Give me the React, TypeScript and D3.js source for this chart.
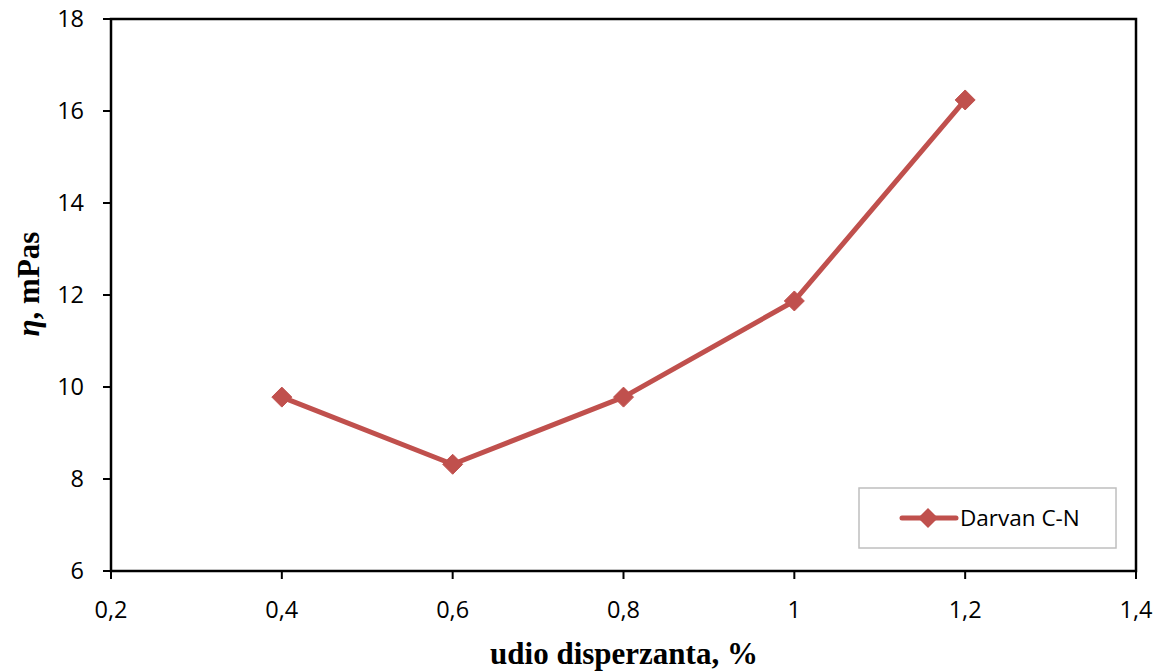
import React from "react";
import * as d3 from "d3";

const xValues = [0.4, 0.6, 0.8, 1.0, 1.2];
const yValues = [9.78, 8.32, 9.78, 11.87, 16.24];
const xTicks = [0.2, 0.4, 0.6, 0.8, 1.0, 1.2, 1.4];
const yTicks = [6, 8, 10, 12, 14, 16, 18];
const seriesName = "Darvan C-N";
const xTitle = "udio disperzanta, %";

const W = 1161;
const H = 671;
const M = { left: 111, right: 1136, top: 19, bottom: 571 };
const COLOR = "#C0504D";
const FONT = "'Open Sans', 'Liberation Sans', sans-serif";
const SERIF = "'Liberation Serif', 'Times New Roman', serif";

export default function App() {
  const x = d3.scaleLinear().domain([0.2, 1.4]).range([M.left, M.right]);
  const y = d3.scaleLinear().domain([6, 18]).range([M.bottom, M.top]);
  const line = d3
    .line<number>()
    .x((_, i) => x(xValues[i]))
    .y((d) => y(d));
  const diamond = (cx: number, cy: number, r: number) =>
    `M${cx},${cy - r}L${cx + r},${cy}L${cx},${cy + r}L${cx - r},${cy}Z`;
  const fmt = (v: number) => String(+v.toFixed(1)).replace(".", ",");

  return (
    <svg
      width={W}
      height={H}
      style={{ position: "absolute", left: 0, top: 0, background: "#fff" }}
    >
      <rect x={M.left} y={M.top} width={M.right - M.left} height={M.bottom - M.top} fill="none" stroke="#000" strokeWidth={2.5} />
      {yTicks.map((t) => (
        <g key={"y" + t}>
          <line x1={M.left - 8} x2={M.left} y1={y(t)} y2={y(t)} stroke="#000" strokeWidth={2} />
          <text x={84} y={y(t)} dy="0.36em" textAnchor="end" fontFamily={FONT} fontSize={23.5} fill="#000">
            {t}
          </text>
        </g>
      ))}
      {xTicks.map((t) => (
        <g key={"x" + t}>
          <line x1={x(t)} x2={x(t)} y1={M.bottom} y2={M.bottom + 8} stroke="#000" strokeWidth={2} />
          <text x={x(t)} y={618} textAnchor="middle" fontFamily={FONT} fontSize={23.5} fill="#000">
            {fmt(t)}
          </text>
        </g>
      ))}
      <path d={line(yValues) || ""} fill="none" stroke={COLOR} strokeWidth={5} strokeLinejoin="round" />
      {yValues.map((v, i) => (
        <path key={"m" + i} d={diamond(x(xValues[i]), y(v), 10)} fill={COLOR} stroke={COLOR} strokeWidth={1} />
      ))}
      <text x={624} y={664} textAnchor="middle" fontFamily={SERIF} fontWeight="bold" fontSize={31} fill="#000">
        {xTitle}
      </text>
      <text
        transform={`translate(39,${284}) rotate(-90)`}
        textAnchor="middle"
        fontFamily={SERIF}
        fontWeight="bold"
        fontSize={31}
        fill="#000"
      >
        <tspan fontStyle="italic">η</tspan>
        <tspan>, mPas</tspan>
      </text>
      <rect x={859} y={488} width={257} height={60} fill="#fff" stroke="#BFBFBF" strokeWidth={1.5} />
      <line x1={902} x2={956} y1={518} y2={518} stroke={COLOR} strokeWidth={5} strokeLinecap="round" />
      <path d={diamond(928, 518, 10)} fill={COLOR} />
      <text x={960} y={518} dy="0.36em" fontFamily={FONT} fontSize={22.5} fill="#000">
        {seriesName}
      </text>
    </svg>
  );
}
